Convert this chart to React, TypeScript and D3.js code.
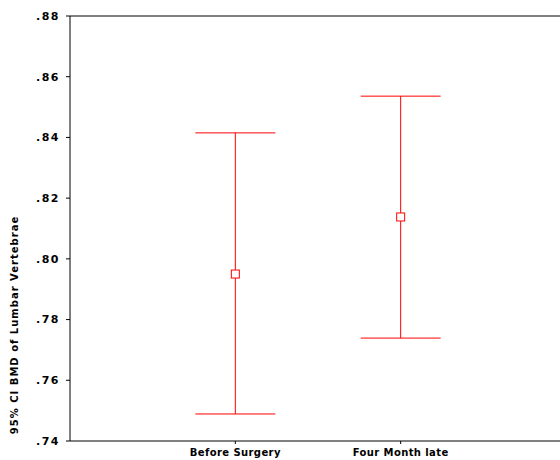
import React from "react";
import * as d3 from "d3";

const categories = ["Before Surgery", "Four Month late"];
const means = [0.795, 0.8138];
const lowers = [0.7489, 0.7739];
const uppers = [0.8415, 0.8536];
const yTicks = [0.74, 0.76, 0.78, 0.8, 0.82, 0.84, 0.86, 0.88];
const yTitle = "95% CI BMD of Lumbar Vertebrae";

const W = 560, H = 460;
const left = 70, right = 566, top = 16, bottom = 441;

export default function App() {
  const y = d3.scaleLinear().domain([0.74, 0.88]).range([bottom, top]);
  const x = d3.scalePoint<string>().domain(categories).range([left, right]).padding(1);
  const fmt = (v: number) => d3.format(".2f")(v).replace(/^0/, "");
  const red = "#ff0000";
  const font = "'DejaVu Sans', Verdana, sans-serif";
  const capHalf = 40;
  const sq = 4;
  return (
    <svg width={W} height={H} style={{ position: "absolute", left: 0, top: 0, background: "#fff" }} fontFamily={font}>
      <line x1={left} x2={left} y1={top} y2={bottom} stroke="#000" />
      <line x1={left} x2={right} y1={bottom} y2={bottom} stroke="#000" />
      <line x1={left} x2={right} y1={top} y2={top} stroke="#000" />
      {yTicks.map((t) => (
        <g key={t}>
          <line x1={left - 4} x2={left} y1={y(t)} y2={y(t)} stroke="#000" />
          <text x={left - 10} y={y(t)} dy="0.35em" textAnchor="end" fontSize={11} fontWeight="bold" letterSpacing={1.5}>
            {fmt(t)}
          </text>
        </g>
      ))}
      {categories.map((c) => (
        <g key={c}>
          <line x1={x(c)} x2={x(c)} y1={bottom} y2={bottom + 3} stroke="#000" />
          <text x={x(c)} y={bottom + 15} textAnchor="middle" fontSize={10} fontWeight="bold" letterSpacing={0.4}>
            {c}
          </text>
        </g>
      ))}
      <text transform={`translate(18, ${325}) rotate(-90)`} textAnchor="middle" fontSize={10} fontWeight="bold" letterSpacing={1}>
        {yTitle}
      </text>
      {categories.map((c, i) => {
        const cx = x(c)!;
        return (
          <g key={c} stroke={red} strokeWidth={1}>
            <line x1={cx} x2={cx} y1={y(uppers[i])} y2={y(means[i]) - sq} />
            <line x1={cx} x2={cx} y1={y(means[i]) + sq} y2={y(lowers[i])} />
            <line x1={cx - capHalf} x2={cx + capHalf} y1={y(uppers[i])} y2={y(uppers[i])} />
            <line x1={cx - capHalf} x2={cx + capHalf} y1={y(lowers[i])} y2={y(lowers[i])} />
            <rect x={cx - sq} y={y(means[i]) - sq} width={sq * 2} height={sq * 2} fill="#fff" />
          </g>
        );
      })}
    </svg>
  );
}
